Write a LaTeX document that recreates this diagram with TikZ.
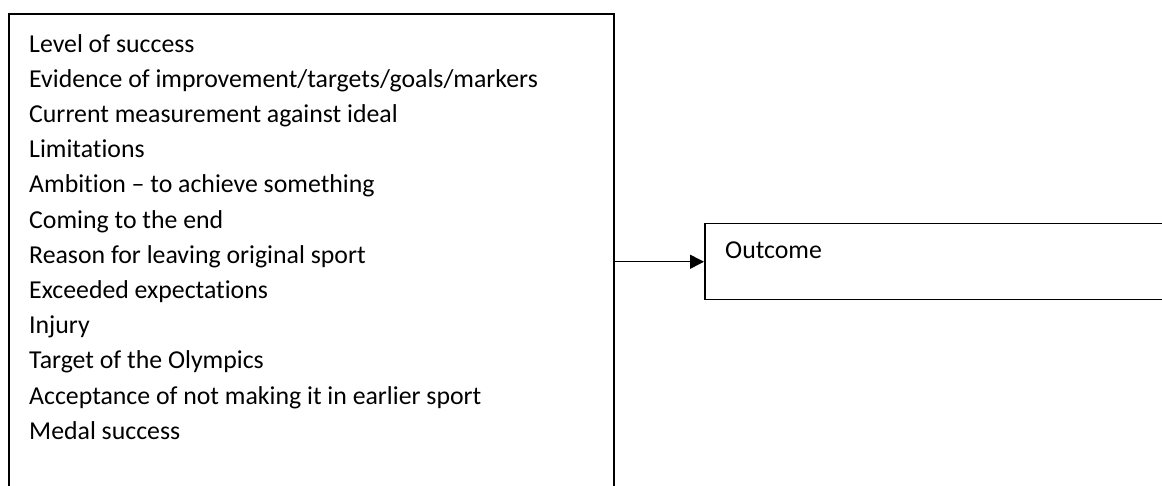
\documentclass[tikz,border=0pt]{standalone}
\usepackage{fontspec}
\setmainfont[Ligatures=NoCommon]{Carlito}
\usetikzlibrary{arrows.meta}
\begin{document}
\begin{tikzpicture}[x=1pt,y=1pt,
  boxstyle/.style={draw=black,line width=1.5pt,inner sep=0pt,anchor=north west},
  txt/.style={inner sep=0pt,anchor=north west,align=left,font=\fontsize{25.8}{35.2}\selectfont},
  conn/.style={draw=black,line width=1.5pt,-{Triangle[length=14pt,width=14pt]}}]
\useasboundingbox (0,0) rectangle (1162,485);
\clip (0,0) rectangle (1162,485);
\node[boxstyle,minimum width=605pt,minimum height=485pt] (left) at (8,471.5) {};
\node[boxstyle,minimum width=480pt,minimum height=76pt] (right) at (704,262) {};
\node[txt] (list) at (29,451) {Level of success\\
Evidence of improvement/targets/goals/markers\\
Current measurement against ideal\\
Limitations\\
Ambition – to achieve something\\
Coming to the end\\
Reason for leaving original sport\\
Exceeded expectations\\
Injury\\
Target of the Olympics\\
Acceptance of not making it in earlier sport\\
Medal success};
\node[txt] (out) at (725,243) {Outcome};
\draw[conn] (left.east |- right.west) -- (right.west);
\end{tikzpicture}
\end{document}
